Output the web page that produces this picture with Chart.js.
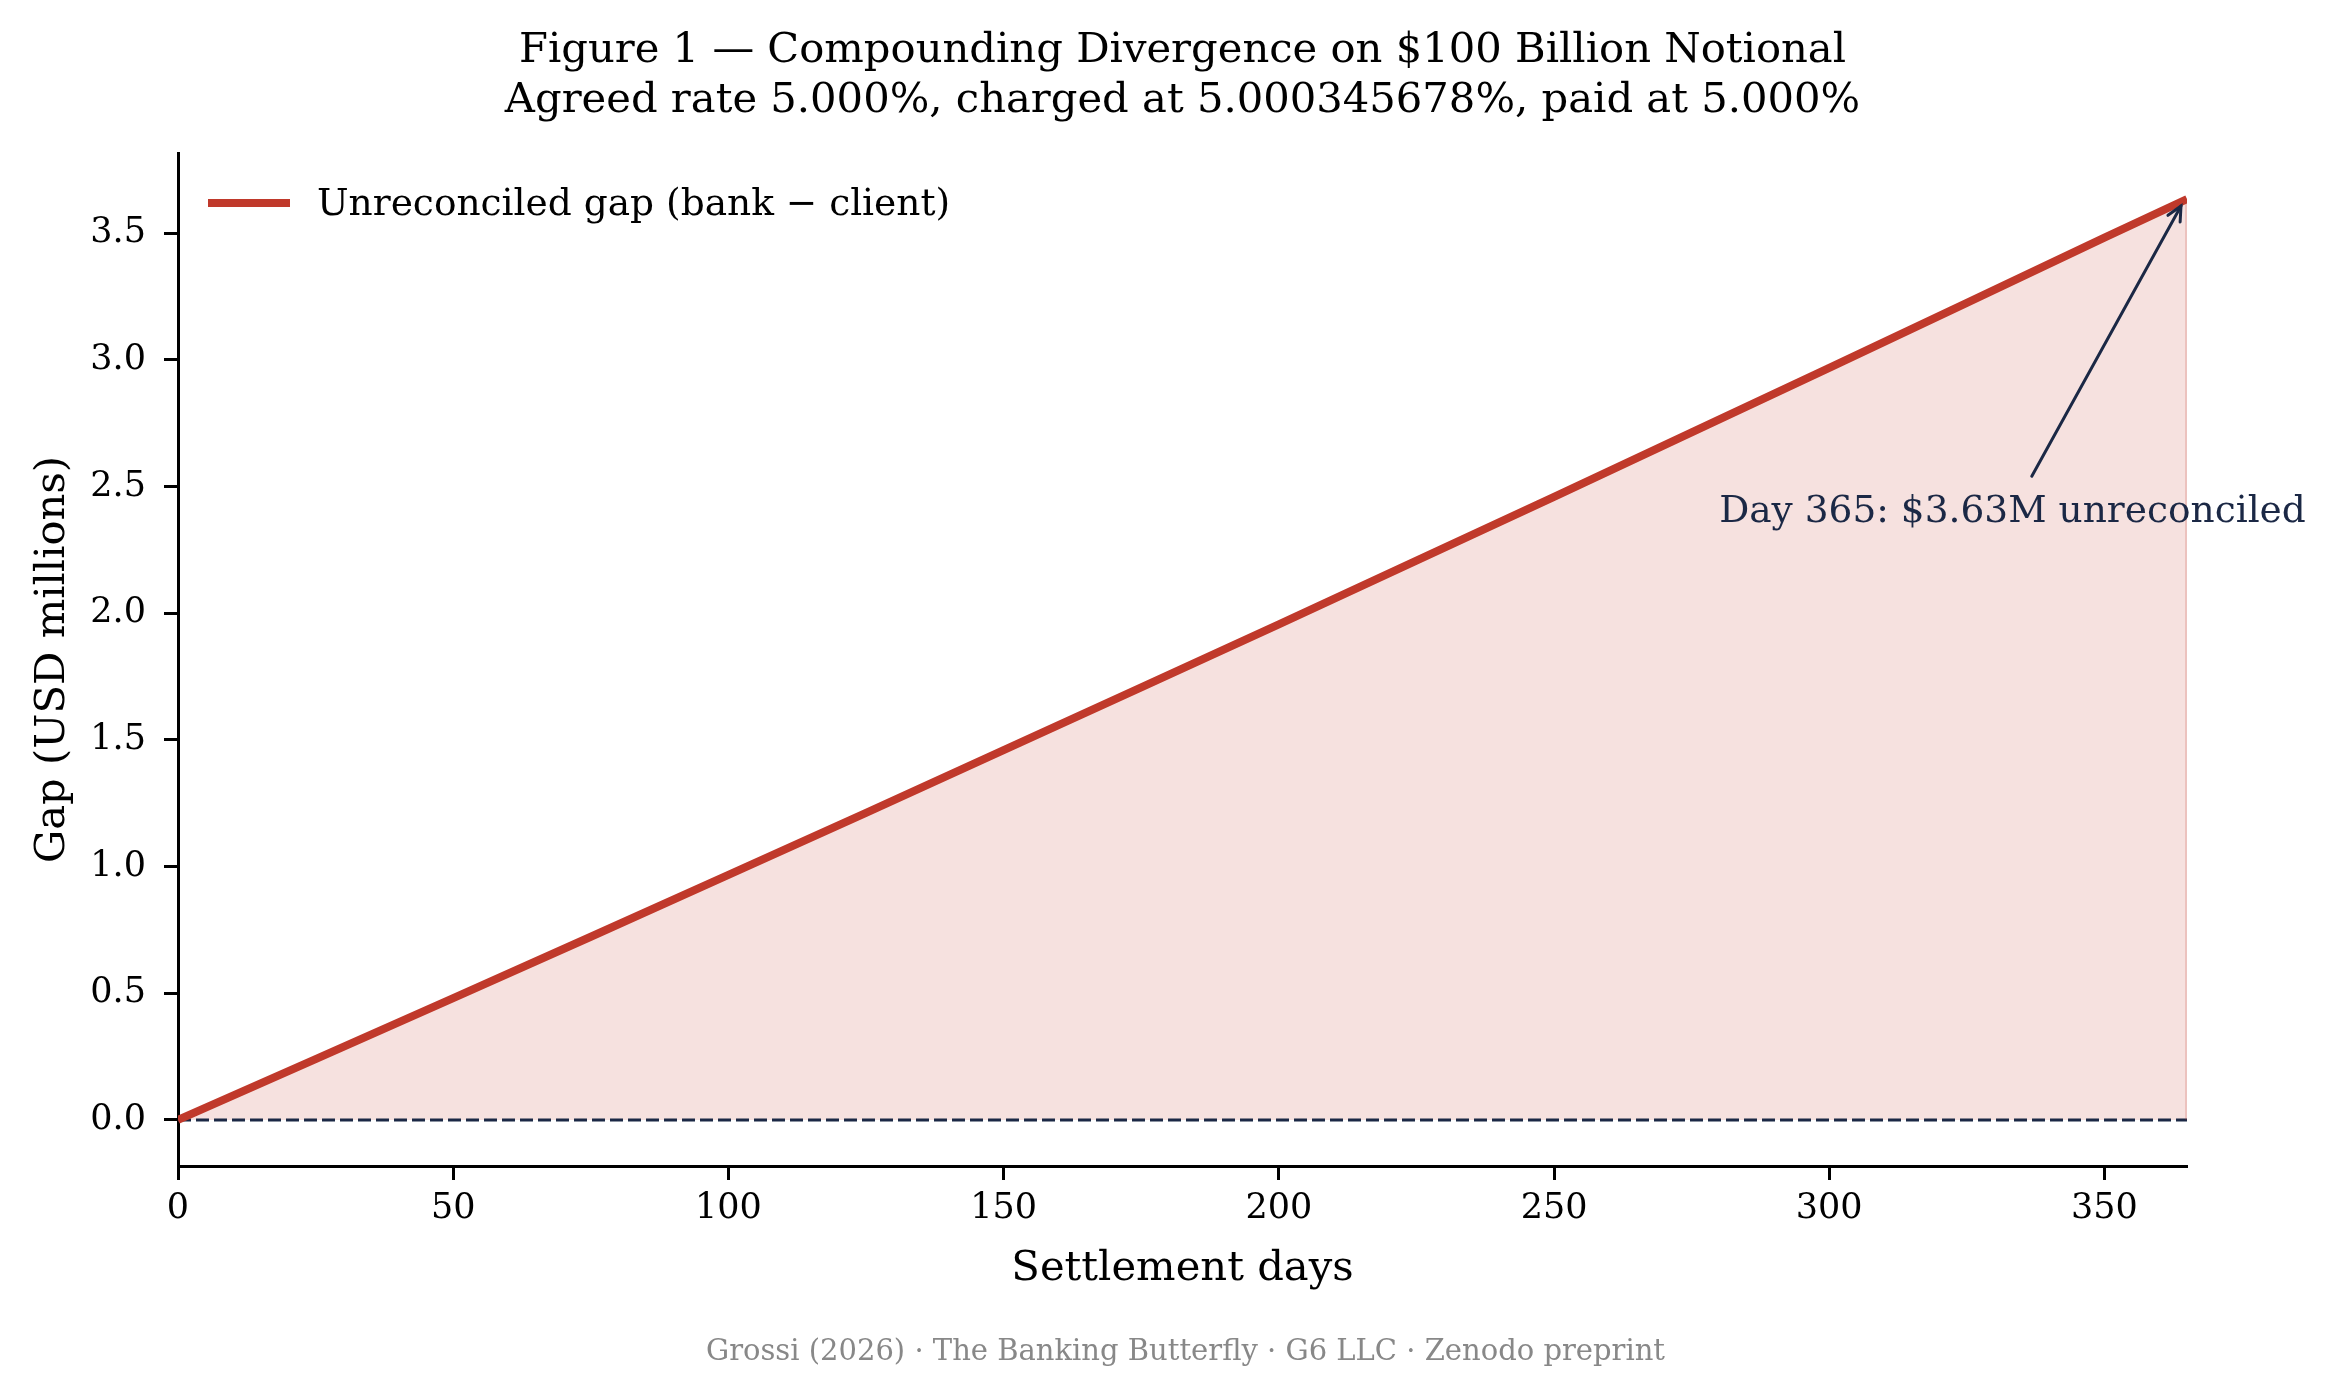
<!DOCTYPE html>
<html>
<head>
<meta charset="utf-8">
<script src="https://cdn.jsdelivr.net/npm/chart.js@4"></script>
<style>
  body { margin: 0; background: #fff; }
  canvas { display: block; }
</style>
</head>
<body>
<canvas id="gapChart" width="2335" height="1398"></canvas>
<script>
const days = [0, 25, 50, 75, 100, 125, 150, 175, 200, 225, 250, 275, 300, 325, 350, 365];
const gapMillions = [0, 0.240, 0.481, 0.723, 0.967, 1.212, 1.459, 1.707, 1.956, 2.207, 2.459, 2.713, 2.968, 3.224, 3.482, 3.634];
const xTicks = [0, 50, 100, 150, 200, 250, 300, 350];
const yTicks = [0, 0.5, 1.0, 1.5, 2.0, 2.5, 3.0, 3.5];
const titleLines = [
  'Figure 1 \u2014 Compounding Divergence on $100 Billion Notional',
  'Agreed rate 5.000%, charged at 5.000345678%, paid at 5.000%'
];
const seriesLabel = 'Unreconciled gap (bank \u2212 client)';
const noteText = 'Day 365: $3.63M unreconciled';
const footerText = 'Grossi (2026) \u00b7 The Banking Butterfly \u00b7 G6 LLC \u00b7 Zenodo preprint';

const SERIF = "'DejaVu Serif', serif";
const RED = '#c0392b';
const NAVY = '#1b2845';

const extras = {
  id: 'extras',
  afterDatasetsDraw(chart) {
    const ctx = chart.ctx;
    const x = chart.scales.x, y = chart.scales.y;
    const last = days.length - 1;
    // fill edge at the last day
    ctx.save();
    ctx.strokeStyle = 'rgba(192,57,43,0.18)';
    ctx.lineWidth = 2;
    ctx.beginPath();
    ctx.moveTo(x.getPixelForValue(days[last]) - 1, y.getPixelForValue(0));
    ctx.lineTo(x.getPixelForValue(days[last]) - 1, y.getPixelForValue(gapMillions[last]) + 4);
    ctx.stroke();
    ctx.restore();
  },
  afterDraw(chart) {
    const ctx = chart.ctx;
    const x = chart.scales.x, y = chart.scales.y;
    const area = chart.chartArea;
    const cx = (area.left + area.right) / 2;
    const last = days.length - 1;

    ctx.save();
    ctx.fillStyle = '#000';
    ctx.textAlign = 'center';
    ctx.textBaseline = 'alphabetic';
    ctx.font = '41.7px ' + SERIF;
    ctx.fillText(titleLines[0], cx, 62);
    ctx.fillText(titleLines[1], cx, 112);

    ctx.fillText('Settlement days', cx, 1280);

    ctx.save();
    ctx.translate(64, (area.top + area.bottom) / 2);
    ctx.rotate(-Math.PI / 2);
    ctx.fillText('Gap (USD millions)', 0, 0);
    ctx.restore();

    ctx.fillStyle = '#888';
    ctx.font = '29px ' + SERIF;
    ctx.fillText(footerText, cx + 3, 1360);

    // legend
    ctx.strokeStyle = RED;
    ctx.lineWidth = 8;
    ctx.beginPath();
    ctx.moveTo(208, 203);
    ctx.lineTo(290, 203);
    ctx.stroke();
    ctx.fillStyle = '#000';
    ctx.textAlign = 'left';
    ctx.font = '37.5px ' + SERIF;
    ctx.fillText(seriesLabel, 317, 215);

    // annotation
    ctx.fillStyle = NAVY;
    ctx.fillText(noteText, x.getPixelForValue(280), y.getPixelForValue(2.36));
    const tx = x.getPixelForValue(days[last]) - 6;
    const ty = y.getPixelForValue(gapMillions[last]) + 7;
    const sx = x.getPixelForValue(336.8);
    const sy = y.getPixelForValue(2.54);
    ctx.strokeStyle = NAVY;
    ctx.lineWidth = 3;
    ctx.lineCap = 'round';
    ctx.beginPath();
    ctx.moveTo(sx, sy);
    ctx.lineTo(tx, ty);
    ctx.stroke();
    const ang = Math.atan2(ty - sy, tx - sx);
    const head = 16;
    ctx.beginPath();
    ctx.moveTo(tx - head * Math.cos(ang - 0.45), ty - head * Math.sin(ang - 0.45));
    ctx.lineTo(tx, ty);
    ctx.lineTo(tx - head * Math.cos(ang + 0.45), ty - head * Math.sin(ang + 0.45));
    ctx.stroke();
    ctx.restore();
  }
};

function drawChart() {
  const points = days.map((d, i) => ({ x: d, y: gapMillions[i] }));

  new Chart(document.getElementById('gapChart'), {
    type: 'line',
    data: {
      datasets: [{
        label: seriesLabel,
        data: points,
        borderColor: RED,
        borderWidth: 8,
        backgroundColor: 'rgba(192,57,43,0.15)',
        fill: 'origin',
        pointRadius: 0,
        tension: 0,
        order: 0
      }, {
        label: 'zero',
        data: [{ x: days[0], y: 0 }, { x: days[days.length - 1], y: 0 }],
        borderColor: NAVY,
        borderWidth: 3,
        borderDash: [13, 5],
        pointRadius: 0,
        fill: false,
        order: 1
      }]
    },
    options: {
      responsive: false,
      animation: false,
      layout: { padding: { top: 153, right: 148, left: 0, bottom: 0 } },
      plugins: {
        legend: { display: false },
        tooltip: { enabled: false },
        filler: { drawTime: 'beforeDatasetsDraw' }
      },
      scales: {
        x: {
          type: 'linear',
          min: 0,
          max: 365,
          afterBuildTicks: s => { s.ticks = xTicks.map(v => ({ value: v })); },
          afterFit: s => { s.height = 232; },
          grid: { drawOnChartArea: false, drawTicks: true, tickLength: 14, tickWidth: 3, tickColor: '#000' },
          border: { display: true, width: 3, color: '#000' },
          ticks: { color: '#000', padding: 8, maxRotation: 0, font: { family: SERIF, size: 35 } }
        },
        y: {
          type: 'linear',
          min: -0.1817,
          max: 3.8157,
          afterBuildTicks: s => { s.ticks = yTicks.map(v => ({ value: v })); },
          afterFit: s => { s.width = 178; },
          grid: { drawOnChartArea: false, drawTicks: true, tickLength: 14, tickWidth: 3, tickColor: '#000' },
          border: { display: true, width: 3, color: '#000' },
          ticks: { color: '#000', padding: 18, font: { family: SERIF, size: 35 }, callback: v => v.toFixed(1) }
        }
      }
    },
    plugins: [extras]
  });
}

drawChart();
</script>
</body>
</html>
